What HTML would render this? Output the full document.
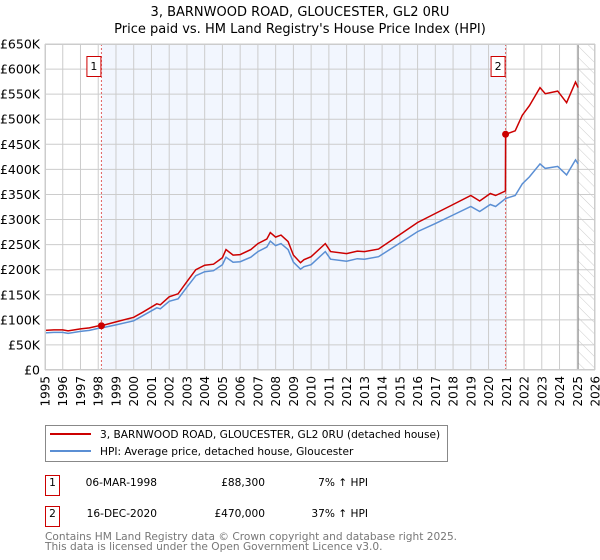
<!DOCTYPE html>
<html><head><meta charset="utf-8"><style>
body{margin:0;background:#fff;}
svg{display:block;font-family:"DejaVu Sans","Liberation Sans",sans-serif;}
</style></head><body>
<svg id="chart" width="600" height="560" viewBox="0 0 600 560">
<defs>
<pattern id="hatch" width="8" height="8" patternUnits="userSpaceOnUse" patternTransform="rotate(-45)">
<line x1="0" y1="0" x2="0" y2="8" stroke="#ccc" stroke-width="1"/>
</pattern>
</defs>
<text x="300" y="16" text-anchor="middle" font-size="13" fill="#000">3, BARNWOOD ROAD, GLOUCESTER, GL2 0RU</text>
<text x="300" y="33" text-anchor="middle" font-size="13" fill="#000">Price paid vs. HM Land Registry's House Price Index (HPI)</text>
<g id="plot"></g>
<g>
<rect x="45.5" y="425.5" width="402" height="36" fill="#fff" stroke="#888"/>
<line x1="50" y1="434" x2="91" y2="434" stroke="#cc0000" stroke-width="2"/>
<text x="100" y="438" font-size="10.6">3, BARNWOOD ROAD, GLOUCESTER, GL2 0RU (detached house)</text>
<line x1="50" y1="451" x2="91" y2="451" stroke="#5b8fd4" stroke-width="2"/>
<text x="100" y="455" font-size="10.6">HPI: Average price, detached house, Gloucester</text>
</g>
<g font-size="10.6">
<rect x="45.5" y="475.5" width="14" height="20" fill="#fff" stroke="#cc0000"/>
<text x="52.5" y="486" text-anchor="middle">1</text>
<text x="157" y="486" text-anchor="end">06-MAR-1998</text>
<text x="265" y="486" text-anchor="end">£88,300</text>
<text x="368" y="486" text-anchor="end">7% ↑ HPI</text>
<rect x="45.5" y="506.5" width="14" height="20" fill="#fff" stroke="#cc0000"/>
<text x="52.5" y="517" text-anchor="middle">2</text>
<text x="157" y="517" text-anchor="end">16-DEC-2020</text>
<text x="265" y="517" text-anchor="end">£470,000</text>
<text x="368" y="517" text-anchor="end">37% ↑ HPI</text>
</g>
<text x="45" y="540" font-size="10.6" fill="#777">Contains HM Land Registry data © Crown copyright and database right 2025.</text>
<text x="45" y="550" font-size="10.6" fill="#777">This data is licensed under the Open Government Licence v3.0.</text>
</svg>
<script>
const hpiYears=[1995,1995.5,1996,1996.3,1997,1997.5,1998,1998.2,1999,2000,2000.5,2001.3,2001.5,2002,2002.5,2003,2003.5,2004,2004.5,2005,2005.2,2005.6,2006,2006.6,2007,2007.5,2007.7,2008,2008.3,2008.7,2009,2009.4,2009.6,2010,2010.8,2011.1,2012,2012.6,2013,2013.8,2015,2016,2017,2018,2019,2019.5,2020.1,2020.4,2020.96,2021.5,2021.9,2022.3,2022.9,2023.2,2023.9,2024.4,2024.9,2025.05];
const hpiValues=[74,75,75,73,77,79,83,84,90,98,108,124,122,137,142,165,188,196,198,210,225,215,216,225,236,245,257,248,252,240,215,201,206,210,236,221,217,222,221,226,253,276,292,309,326,316,330,326,342,348,371,385,411,402,406,389,419,411];
const priceYears=[1995,1995.5,1996,1996.3,1997,1997.5,1998,1998.18,1999,2000,2000.5,2001.3,2001.5,2002,2002.5,2003,2003.5,2004,2004.5,2005,2005.2,2005.6,2006,2006.6,2007,2007.5,2007.7,2008,2008.3,2008.7,2009,2009.4,2009.6,2010,2010.8,2011.1,2012,2012.6,2013,2013.8,2015,2016,2017,2018,2019,2019.5,2020.1,2020.4,2020.95,2020.96,2021.5,2021.9,2022.3,2022.9,2023.2,2023.9,2024.4,2024.9,2025.05];
const priceValues=[79,80,80,78,82,84,88,88.3,96,105,115,132,130,146,152,176,200,209,211,224,240,229,230,240,252,261,274,265,269,256,229,214,220,226,252,236,232,237,236,241,270,294,312,330,348,337,352,348,357,470,477,508,527,563,551,556,533,574,563];
const saleYears=[1998.18,2020.96];
const saleValues=[88.3,470];
const saleLabels=["1","2"];
const yTicks=[0,50,100,150,200,250,300,350,400,450,500,550,600,650];
const xTicks=[1995,1996,1997,1998,1999,2000,2001,2002,2003,2004,2005,2006,2007,2008,2009,2010,2011,2012,2013,2014,2015,2016,2017,2018,2019,2020,2021,2022,2023,2024,2025,2026];

const L=45,R=595,T=44,B=370,X0=1995,X1=2026,YMAX=650,DATA_END=2025.05;
const sx=y=>L+(y-X0)/(X1-X0)*(R-L);
const sy=v=>B-v/YMAX*(B-T);
const NS="http://www.w3.org/2000/svg";
const g=document.getElementById('plot');
function mk(tag,attrs,parent){const e=document.createElementNS(NS,tag);for(const k in attrs)e.setAttribute(k,attrs[k]);(parent||g).appendChild(e);return e;}

let e=mk('rect',{x:L,y:T,width:R-L,height:B-T,fill:'#fff'});


e=mk('rect',{x:sx(saleYears[0]),y:T,width:sx(saleYears[1])-sx(saleYears[0]),height:B-T,fill:'#f2f6fe'});


e=mk('rect',{x:sx(DATA_END),y:T,width:R-sx(DATA_END),height:B-T,fill:'url(#hatch)'});



yTicks.forEach(v=>{
  const l=mk('line',{x1:L,x2:R,y1:sy(v),y2:sy(v),stroke:'#ccc','stroke-width':1});
  
  
  const t=mk('text',{x:L-5,y:sy(v)+4.5,'text-anchor':'end','font-size':12.5,fill:'#000'});
  t.textContent=v===0?'£0':'£'+v+'K';
  
  
});
xTicks.forEach(y=>{
  const l=mk('line',{x1:sx(y),x2:sx(y),y1:T,y2:B,stroke:'#ccc','stroke-width':1});
  
  
  const t=mk('text',{transform:`translate(${sx(y)+4.5},${B+6}) rotate(-90)`,'text-anchor':'end','font-size':12,fill:'#000'});
  t.textContent=y;
  
  
});
e=mk('line',{x1:sx(DATA_END),x2:sx(DATA_END),y1:T,y2:B,stroke:'#888','stroke-width':1});



saleYears.forEach((y,i)=>{
  const l=mk('line',{x1:sx(y),x2:sx(y),y1:T,y2:B,stroke:'#e06060','stroke-width':1,'stroke-dasharray':'2,2'});
  
  
});

function path(xs,vs){return xs.map((x,i)=>(i?'L':'M')+sx(x).toFixed(1)+','+sy(vs[i]).toFixed(1)).join('');}
e=mk('path',{d:path(hpiYears,hpiValues),fill:'none',stroke:'#5b8fd4','stroke-width':1.5});


e=mk('path',{d:path(priceYears,priceValues),fill:'none',stroke:'#cc0000','stroke-width':1.5});



saleYears.forEach((y,i)=>{
  const c=mk('circle',{cx:sx(y),cy:sy(saleValues[i]),r:3.5,fill:'#cc0000'});
  
  
  const bx=sx(y)-15;
  const r=mk('rect',{x:bx+0.5,y:56.5,width:14,height:20,fill:'#fff',stroke:'#cc0000'});
  
  
  const t=mk('text',{x:bx+7.5,y:70,'text-anchor':'middle','font-size':11});
  t.textContent=saleLabels[i];
  
  
});
e=mk('rect',{x:L+0.5,y:T+0.5,width:R-L-1,height:B-T-1,fill:'none',stroke:'#ccc'});


</script>
</body></html>
